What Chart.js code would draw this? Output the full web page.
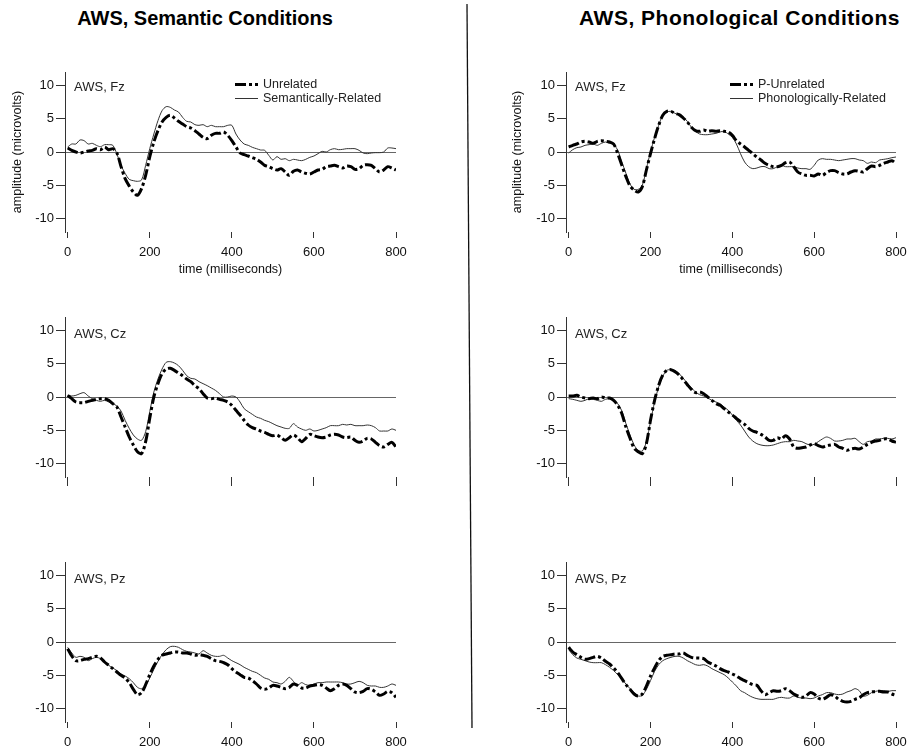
<!DOCTYPE html>
<html>
<head>
<meta charset="utf-8">
<script src="https://cdn.jsdelivr.net/npm/chart.js@4.4.0/dist/chart.umd.min.js"></script>
<style>
body{margin:0;background:#fff;width:913px;height:756px;position:relative;overflow:hidden;font-family:Arial,"Liberation Sans",sans-serif}
canvas{position:absolute}
.ttl{position:absolute;top:6px;height:24px;line-height:24px;font-size:20px;font-weight:bold;text-align:center;color:#000;white-space:nowrap}
svg{position:absolute;left:0;top:0}
</style>
</head>
<body>
<div class="ttl" style="left:0;width:410px">AWS, Semantic Conditions</div>
<div class="ttl" style="left:533px;width:413px;font-size:21px;letter-spacing:0.5px">AWS, Phonological Conditions</div>
<svg width="913" height="756"><line x1="467" y1="4" x2="472" y2="728" stroke="#111" stroke-width="1.3"/></svg>

<canvas id="c1" width="410" height="230" style="left:0;top:60px"></canvas>
<canvas id="c2" width="410" height="230" style="left:500px;top:60px"></canvas>
<canvas id="c3" width="410" height="195" style="left:0;top:305px"></canvas>
<canvas id="c4" width="410" height="195" style="left:500px;top:305px"></canvas>
<canvas id="c5" width="410" height="206" style="left:0;top:550px"></canvas>
<canvas id="c6" width="410" height="206" style="left:500px;top:550px"></canvas>

<script>
// time points (ms)
const times = [0,10,20,30,40,50,60,70,80,90,
  100,110,120,130,140,150,160,170,180,190,
  200,210,220,230,240,250,260,270,280,290,
  300,310,320,330,340,350,360,370,380,390,
  400,410,420,430,440,450,460,470,480,490,
  500,510,520,530,540,550,560,570,580,590,
  600,610,620,630,640,650,660,670,680,690,
  700,710,720,730,740,750,760,770,780,790,
  800];
const xTicks = [0,200,400,600,800];
const yTicks = [-10,-5,0,5,10];

// Fz
const fzSemUnrel = [0.6,0.25,0,-0.15,0,0.15,0.25,0.5,0.35,0.75,
  0.35,0.5,-0.15,-2.2,-4.0,-5.1,-6.0,-6.5,-5.5,-3.5,
  -0.75,1.5,3.2,4.5,5.2,5.5,5.1,4.6,4.2,3.8,
  3.6,3.2,2.7,2.2,2.0,2.5,2.8,2.8,3.0,2.5,
  1.7,0.75,-0.15,-0.4,-0.6,-0.85,-1.1,-1.5,-2.0,-2.2,
  -2.5,-2.7,-2.5,-3.0,-3.5,-2.9,-2.7,-3.0,-3.2,-3.3,
  -3.0,-2.7,-2.6,-2.2,-2.1,-2.0,-2.2,-2.4,-2.1,-2.2,
  -2.6,-2.5,-2.0,-1.9,-2.0,-2.5,-3.0,-2.7,-2.2,-2.4,
  -2.7];
const fzSemRel = [0.75,1.2,1.2,1.8,1.7,1.2,1.3,1.0,0.8,1.1,
  1.1,1.0,-0.3,-2.0,-3.2,-4.1,-4.3,-4.4,-4.2,-2.0,
  0.5,2.7,4.7,6.2,6.8,6.7,6.3,6.0,5.2,4.6,
  4.5,4.1,4.0,4.1,3.8,4.0,3.8,3.8,3.8,4.0,
  4.0,2.7,1.8,1.2,1.0,0.7,0.5,0.3,0.25,-0.5,
  -1.2,-0.7,-1.1,-1.0,-1.3,-1.1,-1.2,-1.3,-1.1,-0.8,
  -0.6,-0.25,0.1,0,0.35,0.5,0.35,0.4,0.5,0.5,
  0.5,0.25,-0.15,-0.25,-0.15,-0.1,-0.1,0,0.6,0.6,
  0.5];
const fzPhonUnrel = [0.75,1.0,1.2,1.5,1.6,1.5,1.3,1.6,1.7,1.6,
  1.5,1.2,-0.25,-2.0,-3.7,-5.1,-5.7,-6.0,-5.2,-2.7,
  -0.25,2.0,4.0,5.5,6.1,6.1,5.8,5.6,5.1,4.5,
  3.7,3.2,3.1,3.3,3.1,3.2,3.1,3.2,3.1,3.0,
  2.5,1.7,1.2,0.75,0.25,-0.25,-0.75,-1.2,-1.7,-2.0,
  -2.2,-2.2,-2.0,-1.6,-1.5,-2.2,-3.0,-3.3,-3.5,-3.5,
  -3.6,-3.3,-3.5,-3.1,-2.8,-2.8,-3.1,-3.3,-3.3,-3.0,
  -2.8,-2.9,-3.0,-2.5,-2.1,-2.2,-2.0,-1.7,-1.5,-1.3,
  -1.7];
const fzPhonRel = [-0.15,0.35,0.65,0.75,1.0,1.1,1.2,1.0,1.3,1.5,
  1.3,1.1,0.25,-1.5,-3.2,-4.8,-5.6,-5.6,-5.0,-2.5,
  0,2.2,4.0,5.5,6.0,6.1,5.8,5.5,5.2,4.6,
  3.7,3.1,2.7,2.6,2.6,2.7,2.8,3.0,3.1,2.7,
  2.2,1.2,-0.25,-1.5,-2.2,-2.5,-2.4,-2.2,-2.2,-2.5,
  -2.5,-2.2,-2.0,-2.2,-2.2,-2.2,-2.4,-2.5,-2.5,-2.6,
  -2.0,-1.2,-1.0,-1.1,-1.1,-1.2,-1.3,-1.2,-1.1,-1.0,
  -1.0,-1.2,-1.3,-1.7,-1.5,-1.6,-1.2,-1.1,-1.0,-0.85,
  -0.75];

// Cz
const czSemUnrel = [0.25,-0.25,-0.75,-0.85,-0.85,-0.65,-0.5,-0.35,-0.25,-0.25,
  -0.5,-1.0,-1.5,-3.0,-4.5,-6.0,-7.2,-8.2,-8.5,-6.7,
  -3.2,0,2.0,3.5,4.2,4.3,4.0,3.6,3.2,2.7,
  2.3,1.7,1.25,0.5,-0.15,-0.25,-0.15,-0.35,-0.5,-0.75,
  -1.25,-2.0,-2.7,-3.5,-4.2,-4.6,-4.8,-5.1,-5.3,-5.6,
  -5.8,-5.7,-6.1,-6.5,-6.1,-5.7,-6.1,-6.7,-6.2,-5.6,
  -5.8,-6.0,-6.1,-6.0,-5.7,-5.6,-5.7,-6.0,-6.1,-6.0,
  -6.5,-6.8,-6.6,-6.2,-6.3,-6.8,-7.3,-7.5,-7.1,-6.8,
  -7.5];
const czSemRel = [0.25,0.15,0.25,0.5,0.65,0.15,-0.25,-0.5,-0.65,-0.5,
  -0.75,-1.0,-1.35,-2.1,-3.5,-4.7,-5.7,-6.3,-6.5,-5.2,
  -2.2,0.75,2.7,4.2,5.2,5.3,5.1,4.7,4.0,3.2,
  2.8,2.7,2.3,2.0,1.7,1.35,1.0,0.5,0,0,
  0.15,0,-0.75,-1.75,-2.2,-2.6,-3.0,-3.2,-3.5,-3.7,
  -4.0,-4.3,-4.5,-4.7,-4.7,-4.0,-4.5,-4.8,-5.0,-4.8,
  -5.1,-5.0,-4.8,-4.6,-4.3,-4.3,-4.3,-4.1,-4.2,-4.1,
  -4.3,-4.3,-4.3,-4.2,-4.3,-4.6,-5.1,-5.1,-5.1,-4.8,
  -5.0];
const czPhonUnrel = [0.15,0.15,0.25,0,-0.15,-0.25,-0.15,-0.25,0,-0.15,
  -0.15,-0.5,-1.25,-2.5,-4.5,-6.2,-7.7,-8.2,-8.5,-7.0,
  -3.5,-0.5,1.75,3.3,4.0,4.1,3.8,3.3,2.6,1.85,
  1.15,0.65,0.75,0.5,0,-0.5,-1.0,-1.25,-1.75,-2.25,
  -2.7,-3.2,-3.7,-4.1,-4.7,-5.1,-5.3,-5.6,-6.0,-6.5,
  -6.5,-6.1,-6.3,-5.8,-6.3,-7.5,-7.7,-7.6,-7.5,-7.2,
  -7.0,-7.3,-7.5,-7.3,-7.2,-7.1,-7.5,-7.7,-8.0,-7.8,
  -7.7,-7.8,-7.5,-7.1,-6.8,-6.6,-6.5,-6.3,-6.3,-6.6,
  -6.8];
const czPhonRel = [-0.25,-0.35,-0.5,-0.65,-0.5,-0.25,-0.35,-0.5,-0.65,-0.35,
  -0.25,-0.5,-1.0,-2.1,-4.0,-5.7,-7.2,-8.0,-8.1,-6.7,
  -3.7,-0.75,1.5,3.1,4.0,4.1,4.0,3.5,2.8,2.1,
  1.35,0.75,0.35,0.15,-0.15,-0.5,-0.75,-1.0,-1.5,-2.0,
  -2.7,-3.5,-4.2,-5.1,-6.0,-6.6,-7.0,-7.2,-7.3,-7.3,
  -7.2,-7.0,-6.8,-6.7,-6.7,-6.5,-6.6,-6.7,-7.0,-7.2,
  -7.1,-6.7,-6.3,-6.0,-6.2,-6.6,-6.6,-6.5,-6.3,-6.3,
  -6.2,-6.7,-7.1,-6.7,-6.6,-6.3,-6.3,-6.2,-6.2,-6.3,
  -6.1];

// Pz
const pzSemUnrel = [-1.0,-2.1,-2.8,-2.8,-2.6,-2.5,-2.3,-2.15,-2.4,-3.0,
  -3.5,-4.0,-4.5,-5.0,-5.4,-6.1,-7.1,-7.9,-7.6,-6.4,
  -4.9,-3.6,-2.6,-2.0,-1.8,-1.65,-1.5,-1.5,-1.65,-1.65,
  -1.8,-2.0,-1.9,-2.0,-2.15,-2.5,-2.8,-2.9,-3.1,-3.4,
  -4.0,-4.5,-4.9,-5.3,-5.4,-5.8,-6.3,-6.9,-7.1,-6.9,
  -6.5,-6.6,-6.8,-7.0,-6.8,-6.3,-6.5,-6.9,-6.9,-6.6,
  -6.5,-6.4,-6.5,-6.9,-7.3,-7.0,-6.5,-6.3,-6.5,-7.0,
  -7.5,-7.6,-7.4,-7.0,-7.1,-7.5,-8.0,-7.8,-7.4,-7.6,
  -8.3];
const pzSemRel = [-0.8,-1.65,-2.3,-2.15,-2.3,-2.8,-2.5,-2.3,-2.5,-3.0,
  -3.5,-3.9,-4.3,-4.8,-5.1,-5.5,-6.1,-6.8,-7.0,-6.5,
  -5.4,-4.1,-2.9,-1.9,-1.15,-0.7,-0.65,-0.8,-1.15,-1.4,
  -1.5,-1.65,-1.8,-1.3,-1.65,-2.0,-2.15,-2.15,-2.0,-2.4,
  -2.8,-3.1,-3.4,-3.8,-4.1,-4.4,-4.6,-5.0,-5.4,-5.6,
  -6.0,-6.1,-6.3,-5.9,-5.3,-5.9,-6.5,-6.1,-6.4,-6.5,
  -6.3,-6.1,-6.1,-6.0,-6.0,-6.0,-6.0,-6.1,-6.3,-6.3,
  -6.1,-5.9,-6.1,-6.5,-6.6,-6.6,-6.8,-6.8,-6.6,-6.3,
  -6.5];
const pzPhonUnrel = [-0.8,-1.5,-1.9,-2.3,-2.6,-2.5,-2.3,-2.15,-2.4,-2.9,
  -3.3,-3.9,-4.6,-5.5,-6.4,-7.1,-7.8,-8.1,-7.8,-6.6,
  -5.1,-3.9,-2.8,-2.15,-2.0,-1.9,-1.8,-1.8,-1.65,-2.0,
  -2.3,-2.4,-2.4,-2.5,-3.0,-3.3,-3.6,-4.0,-4.3,-4.5,
  -4.8,-5.1,-5.5,-5.8,-6.1,-6.4,-6.5,-7.3,-7.9,-7.6,
  -7.3,-7.4,-7.3,-7.0,-7.3,-7.8,-8.1,-8.3,-8.1,-7.6,
  -7.8,-8.4,-8.6,-8.3,-7.9,-8.1,-8.6,-8.9,-9.0,-8.9,
  -8.6,-8.4,-7.9,-7.6,-7.5,-7.4,-7.4,-7.5,-7.5,-7.8,
  -8.0];
const pzPhonRel = [-1.15,-1.9,-2.4,-2.6,-2.8,-3.0,-3.1,-3.1,-3.1,-3.4,
  -3.8,-4.3,-4.9,-5.6,-6.3,-7.0,-7.6,-8.1,-8.0,-7.1,
  -5.8,-4.4,-3.4,-2.8,-2.5,-2.3,-2.15,-2.15,-2.4,-2.8,
  -3.1,-3.4,-3.5,-3.4,-3.6,-4.0,-4.3,-4.6,-4.9,-5.4,
  -6.0,-6.6,-7.3,-7.6,-8.0,-8.3,-8.5,-8.6,-8.6,-8.6,
  -8.6,-8.4,-8.3,-8.4,-8.4,-8.1,-8.3,-8.4,-8.4,-8.5,
  -8.4,-8.1,-7.9,-7.6,-7.6,-7.8,-7.9,-7.8,-7.5,-7.3,
  -7.0,-7.3,-8.1,-8.0,-7.6,-7.4,-7.3,-7.3,-7.4,-7.3,
  -7.3];

const semNames = ['Unrelated', 'Semantically-Related'];
const phonNames = ['P-Unrelated', 'Phonologically-Related'];

const FONT = 'Arial, "Liberation Sans", sans-serif';
Chart.defaults.font.family = FONT;
Chart.defaults.color = '#111';

function pts(vals) {
  return vals.map((v, i) => ({x: times[i], y: v}));
}

// panel label + legend drawn inside the plot area
const panelText = {
  id: 'panelText',
  afterDatasetsDraw(chart, args, o) {
    const ctx = chart.ctx, a = chart.chartArea;
    ctx.save();
    ctx.fillStyle = '#222';
    ctx.textBaseline = 'middle';
    ctx.font = '13px ' + FONT;
    ctx.fillText(o.label, a.left + 9, a.top + o.dy);
    if (o.legend) {
      ctx.font = '12.5px ' + FONT;
      chart.data.datasets.forEach((ds, i) => {
        const y = a.top + 12.5 + i * 14;
        ctx.beginPath();
        ctx.setLineDash(ds.borderDash || []);
        ctx.lineWidth = ds.borderWidth;
        ctx.strokeStyle = ds.borderColor;
        ctx.moveTo(a.left + o.lx, y);
        ctx.lineTo(a.left + o.lx + 23, y);
        ctx.stroke();
        ctx.setLineDash([]);
        ctx.fillText(ds.label, a.left + o.lx + 28, y);
      });
    }
    ctx.restore();
  }
};

function panel(id, c) {
  new Chart(document.getElementById(id), {
    type: 'line',
    data: {
      datasets: [
        {label: c.names[0], data: pts(c.unrel), borderColor: '#000', borderWidth: 3,
         borderDash: [11, 3, 3, 3], pointRadius: 0, tension: 0.3},
        {label: c.names[1], data: pts(c.rel), borderColor: '#333', borderWidth: 1,
         pointRadius: 0, tension: 0.3}
      ]
    },
    options: {
      responsive: false,
      animation: false,
      devicePixelRatio: 1,
      events: [],
      layout: {padding: {top: 12, bottom: c.padB, left: 0, right: 14}},
      scales: {
        x: {
          type: 'linear', min: -6.5, max: 800,
          afterBuildTicks: s => { s.ticks = xTicks.map(v => ({value: v})); },
          ticks: {display: c.xLabels, font: {size: 13}, padding: 7, maxRotation: 0, autoSkip: false},
          grid: {drawOnChartArea: false, tickLength: c.tl, tickColor: '#333'},
          border: {display: false},
          title: {display: c.xTitle, text: 'time (milliseconds)', font: {size: 12.5}, padding: {top: 4, bottom: 4}},
          afterFit: s => { s.height = c.xh; s.paddingLeft = 0; s.paddingRight = 0; }
        },
        y: {
          min: -12, max: 12,
          afterBuildTicks: s => { s.ticks = yTicks.map(v => ({value: v})); },
          ticks: {font: {size: 13}, padding: 2},
          grid: {
            color: g => (g.tick && g.tick.value === 0) ? '#666' : 'rgba(0,0,0,0)',
            tickLength: 9, tickColor: '#333'
          },
          border: {display: true, color: '#333'},
          title: {display: c.yTitle, text: 'amplitude (microvolts)', font: {size: 12.5}, padding: {top: 10, bottom: 0}},
          afterFit: s => { s.width = c.yw; }
        }
      },
      plugins: {
        legend: {display: false},
        tooltip: {enabled: false},
        panelText: {label: c.label, legend: c.legend, dy: c.dy, lx: c.lx}
      }
    },
    plugins: [panelText]
  });
}

panel('c1', {unrel: fzSemUnrel, rel: fzSemRel, names: semNames, label: 'AWS, Fz', legend: true, lx: 170,
  dy: 15, yw: 65, xh: 49, padB: 9, tl: 6, xLabels: true, xTitle: true, yTitle: true});
panel('c2', {unrel: fzPhonUnrel, rel: fzPhonRel, names: phonNames, label: 'AWS, Fz', legend: true, lx: 164,
  dy: 15, yw: 66, xh: 49, padB: 9, tl: 6, xLabels: true, xTitle: true, yTitle: true});
panel('c3', {unrel: czSemUnrel, rel: czSemRel, names: semNames, label: 'AWS, Cz', legend: false,
  dy: 17, yw: 65, xh: 20, padB: 3, tl: 9, xLabels: false, xTitle: false, yTitle: false});
panel('c4', {unrel: czPhonUnrel, rel: czPhonRel, names: phonNames, label: 'AWS, Cz', legend: false,
  dy: 17, yw: 66, xh: 20, padB: 3, tl: 9, xLabels: false, xTitle: false, yTitle: false});
panel('c5', {unrel: pzSemUnrel, rel: pzSemRel, names: semNames, label: 'AWS, Pz', legend: false,
  dy: 17, yw: 65, xh: 30, padB: 4, tl: 6, xLabels: true, xTitle: false, yTitle: false});
panel('c6', {unrel: pzPhonUnrel, rel: pzPhonRel, names: phonNames, label: 'AWS, Pz', legend: false,
  dy: 17, yw: 66, xh: 30, padB: 4, tl: 6, xLabels: true, xTitle: false, yTitle: false});
</script>
</body>
</html>
